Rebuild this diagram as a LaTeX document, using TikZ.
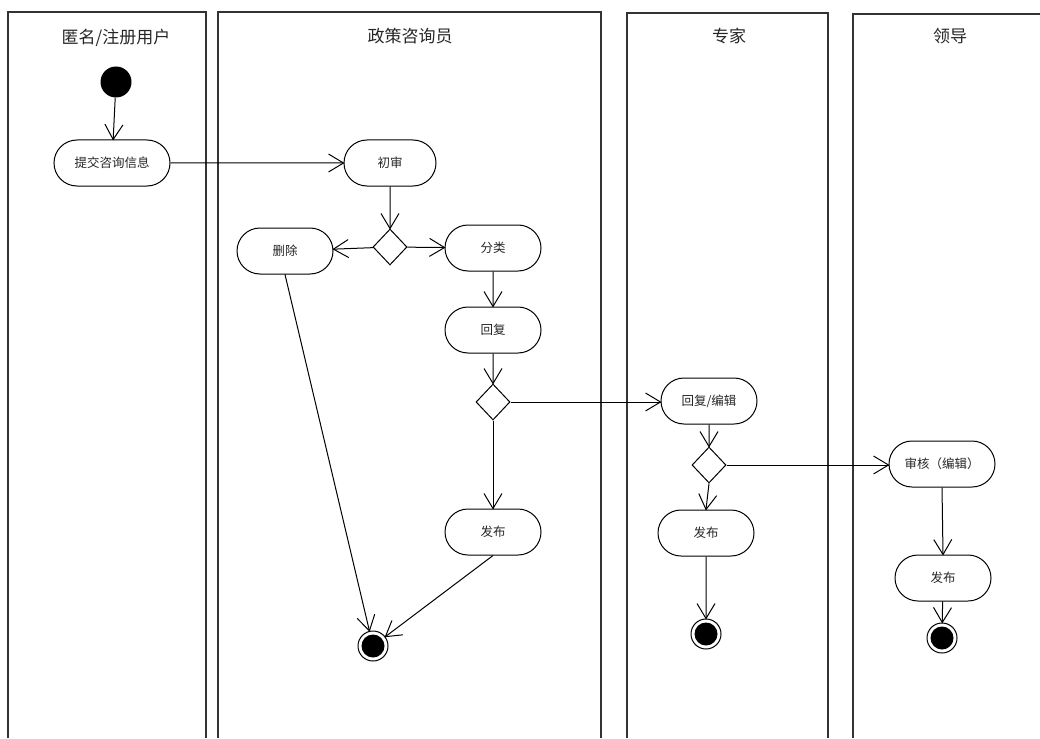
\documentclass[tikz,border=0pt]{standalone}
\usepackage{fontspec}
\setmainfont{Noto Sans CJK SC}
\usetikzlibrary{shapes.misc,shapes.geometric,decorations.markings}
\tikzset{
  lane/.style={line width=1.4pt, draw=black!80},
  title/.style={font=\fontsize{17}{20}\selectfont, text=black!85},
  act/.style={rounded rectangle, draw, line width=1pt, minimum width=100pt, minimum height=46pt, font=\fontsize{12.5}{14}\selectfont, text=black!85, inner sep=2pt},
  dec/.style={diamond, draw, line width=1pt, minimum width=34pt, minimum height=36pt, inner sep=0pt, aspect=0.9},
  startnode/.style={circle, fill=black, minimum size=31pt, inner sep=0pt},
  endnode/.style={circle, draw, line width=1pt, minimum size=30pt, inner sep=0pt,
    path picture={\fill (path picture bounding box.center) circle (11.5pt);}},
  flow/.style={line width=1pt, postaction={decorate, decoration={markings,
    mark=at position 1 with {\draw[line width=1pt, line join=miter] (-15pt,9pt) -- (0pt,0pt) -- (-15pt,-9pt);}}}}
}
\begin{document}
\begin{tikzpicture}[x=1pt,y=-1pt]
\useasboundingbox (0,0) rectangle (1040,738);
% lanes
\draw[lane] (8,738) -- (8,12) -- (206,12) -- (206,738);
\draw[lane] (218,738) -- (218,12) -- (601,12) -- (601,738);
\draw[lane] (627,738) -- (627,13) -- (828,13) -- (828,738);
\draw[lane] (853,738) -- (853,14) -- (1040,14);
% titles
\node[title] (t1) at (116,38) {匿名/注册用户};
\node[title] (t2) at (410,36) {政策咨询员};
\node[title] (t3) at (729,36) {专家};
\node[title] (t4) at (950,36) {领导};
% nodes
\node[startnode] (start) at (116,82) {};
\node[act, minimum width=120pt] (submit) at (112,163) {提交咨询信息};
\node[act, minimum width=96pt] (check) at (390,163) {初审};
\node[dec] (d1) at (390,247) {};
\node[act] (del) at (285,251) {删除};
\node[act] (cls) at (493,248) {分类};
\node[act] (reply) at (493,330) {回复};
\node[dec] (d2) at (493,402) {};
\node[act] (pub2) at (493,532) {发布};
\node[endnode] (end2) at (373,646) {};
\node[act] (redit) at (709,401) {回复/编辑};
\node[dec] (d3) at (709,465) {};
\node[act] (pub3) at (706,533) {发布};
\node[endnode] (end3) at (706,634) {};
\node[act, minimum width=110pt] (audit) at (942,464) {审核（编辑）};
\node[act] (pub4) at (943,578) {发布};
\node[endnode] (end4) at (942,638) {};
% flows
\draw[flow] (start) -- (submit);
\draw[flow] (submit) -- (check);
\draw[flow] (check) -- (d1);
\draw[flow] (d1) -- (del);
\draw[flow] (d1) -- (cls);
\draw[flow] (cls) -- (reply);
\draw[flow] (reply) -- (d2);
\draw[flow] (d2) -- (pub2);
\draw[flow] (d2.east) -- (redit.west |- d2.east);
\draw[flow] (del.south) -- (end2);
\draw[flow] (pub2.south) -- (end2);
\draw[flow] (redit) -- (d3);
\draw[flow] (d3.east) -- (audit.west |- d3.east);
\draw[flow] (d3.south) -- (pub3.north);
\draw[flow] (pub3) -- (end3);
\draw[flow] (audit.south) -- (pub4.north);
\draw[flow] (pub4) -- (end4);
\end{tikzpicture}
\end{document}
